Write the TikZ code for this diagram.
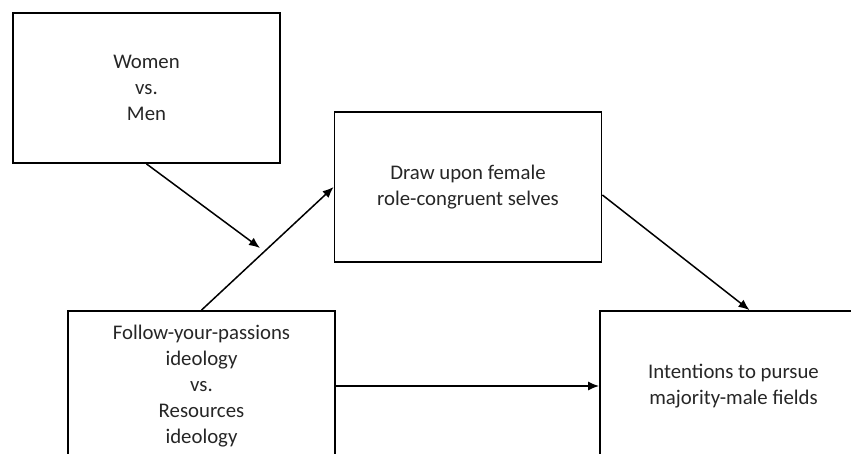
\documentclass[tikz,border=0pt]{standalone}
\usepackage{fontspec}
\setmainfont{Carlito}
\usetikzlibrary{arrows.meta}

\begin{document}
\begin{tikzpicture}[x=0.5pt, y=-0.5pt,
    box/.style={rectangle, draw, line width=0.9pt, minimum width=133.5pt, minimum height=75pt,
      align=center, font=\fontsize{10.4}{13}\selectfont, text=black!85},
    arr/.style={-{Latex[length=5.5pt, width=4.5pt]}, line width=0.75pt}]
    \clip (0, 0) rectangle (851, 454);

    % ノードの定義
    \node[box] (A) at (146.5, 88) {Women\\vs.\\Men};
    \node[box] (B) at (468, 187) {Draw upon female\\role-congruent selves};
    \node[box] (C) at (201.5, 386) {Follow-your-passions\\ideology\\vs.\\Resources\\ideology};
    \node[box] (D) at (733.5, 386) {Intentions to pursue\\majority-male fields};
    \coordinate (m) at (260, 248);

    % 矢印を引く
    \draw[arr] (A.south) -- (m);
    \draw[arr] (C.north) -- (B.west);
    \draw[arr] ([yshift=-4pt]B.east) -- ([xshift=8pt]D.north);
    \draw[arr] (C.east) -- (D.west);

  \end{tikzpicture}
\end{document}
